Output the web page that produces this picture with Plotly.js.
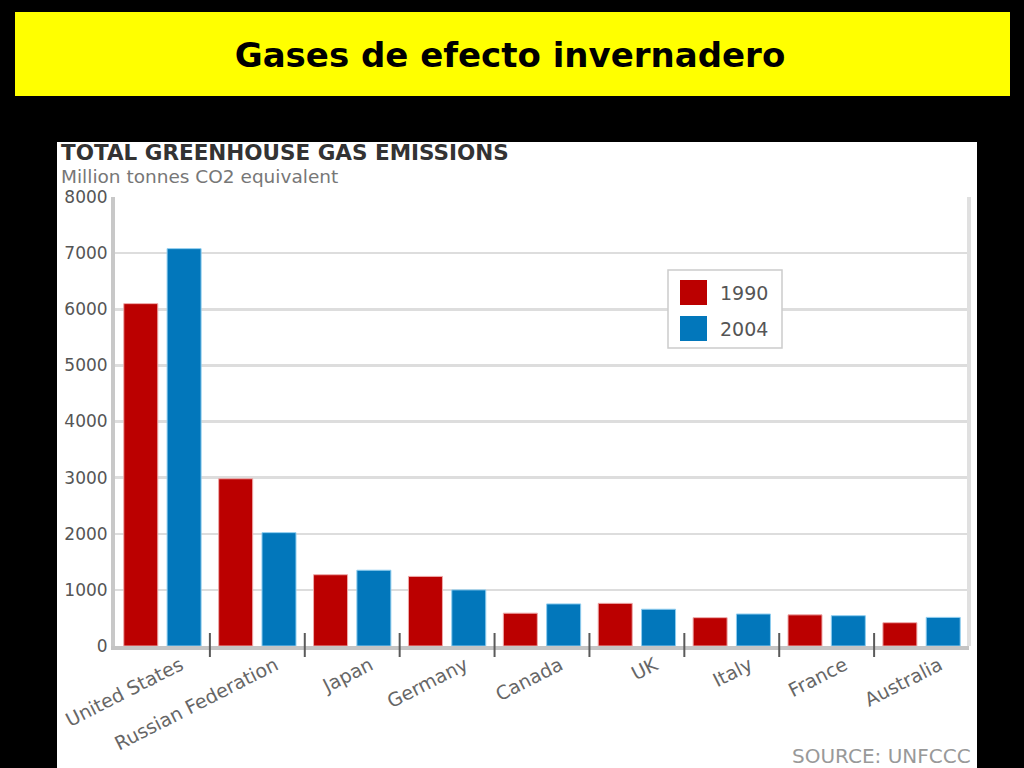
<!DOCTYPE html>
<html>
<head>
<meta charset="utf-8">
<script src="https://cdn.plot.ly/plotly-3.0.1.min.js"></script>
<style>
  html, body { margin: 0; padding: 0; background: #000; }
  #chart { width: 1024px; height: 768px; }
</style>
</head>
<body>
<div id="chart"></div>
<script>
// ---- data ----
const categories = ['United States', 'Russian Federation', 'Japan', 'Germany', 'Canada', 'UK', 'Italy', 'France', 'Australia'];
const values1990 = [6100, 2980, 1270, 1240, 585, 760, 505, 555, 415];
const values2004 = [7080, 2020, 1350, 1000, 750, 655, 570, 540, 510];
const seriesNames = ['1990', '2004'];
const yTickValues = [0, 1000, 2000, 3000, 4000, 5000, 6000, 7000, 8000];
const slideTitle = 'Gases de efecto invernadero';
const chartTitle = 'TOTAL GREENHOUSE GAS EMISSIONS';
const chartSubtitle = 'Million tonnes CO2 equivalent';
const sourceText = 'SOURCE: UNFCCC';

// ---- styling ----
const W = 1024, H = 768;
const M = { l: 115, r: 55, t: 197, b: 122 };
const PW = W - M.l - M.r, PH = H - M.t - M.b;
const px = (x) => (x - M.l) / PW;          // pixel -> paper x
const py = (y) => (H - M.b - y) / PH;      // pixel -> paper y
const colors = ['#bb0000', '#0277bb'];
const edgeColors = ['#eeaaaa', '#8fcdef'];
const FONT = 'DejaVu Sans, Arial, sans-serif';

const traces = [values1990, values2004].map((vals, i) => ({
  type: 'bar',
  name: seriesNames[i],
  x: categories,
  y: vals,
  marker: { color: colors[i], line: { color: edgeColors[i], width: 1 } },
  hoverinfo: 'x+y+name'
}));

const shapes = [];
// white chart panel
shapes.push({ type: 'rect', xref: 'paper', yref: 'paper', layer: 'below',
  x0: px(57), x1: px(977), y0: py(142), y1: py(768),
  fillcolor: '#ffffff', line: { width: 0 } });
// yellow title banner
shapes.push({ type: 'rect', xref: 'paper', yref: 'paper', layer: 'below',
  x0: px(15), x1: px(1010), y0: py(12), y1: py(96),
  fillcolor: '#ffff00', line: { width: 0 } });
// right frame line
shapes.push({ type: 'line', xref: 'paper', yref: 'paper', layer: 'above',
  x0: 1, x1: 1, y0: 0, y1: 1, line: { color: '#e0e0e0', width: 4 } });
// category separators
for (let i = 0; i < categories.length - 1; i++) {
  shapes.push({ type: 'line', xref: 'x', yref: 'paper', layer: 'above',
    x0: i + 0.5, x1: i + 0.5, y0: py(657), y1: py(633),
    line: { color: '#5a5a5a', width: 2 } });
}
// legend box and swatches
shapes.push({ type: 'rect', xref: 'paper', yref: 'paper', layer: 'above',
  x0: px(668), x1: px(782), y0: py(270), y1: py(348),
  fillcolor: '#ffffff', line: { color: '#cccccc', width: 1.5 } });
const swatchTops = [280, 316];
seriesNames.forEach((n, i) => {
  shapes.push({ type: 'rect', xref: 'paper', yref: 'paper', layer: 'above',
    x0: px(680), x1: px(707), y0: py(swatchTops[i]), y1: py(swatchTops[i] + 25),
    fillcolor: colors[i], line: { width: 0 } });
});

const annotations = [
  { text: chartTitle, xref: 'paper', yref: 'paper', x: px(60), y: py(152),
    xanchor: 'left', yanchor: 'middle', showarrow: false, borderpad: 0,
    font: { family: FONT, size: 21.5, color: '#333333', weight: 'bold' } },
  { text: chartSubtitle, xref: 'paper', yref: 'paper', x: px(60), y: py(177),
    xanchor: 'left', yanchor: 'middle', showarrow: false, borderpad: 0,
    font: { family: FONT, size: 18.5, color: '#777777' } },
  { text: sourceText, xref: 'paper', yref: 'paper', x: px(973), y: py(756),
    xanchor: 'right', yanchor: 'middle', showarrow: false,
    font: { family: FONT, size: 20, color: '#999999' } }
];
seriesNames.forEach((n, i) => {
  annotations.push({ text: n, xref: 'paper', yref: 'paper',
    x: px(718), y: py(swatchTops[i] + 13), xanchor: 'left', yanchor: 'middle',
    showarrow: false, font: { family: FONT, size: 19, color: '#555555' } });
});

const layout = {
  width: W, height: H,
  margin: M,
  paper_bgcolor: '#000000',
  plot_bgcolor: '#ffffff',
  showlegend: false,
  barmode: 'group',
  bargap: 0.087,
  bargroupgap: 0.215,
  title: {
    text: slideTitle,
    xref: 'paper', yref: 'container',
    x: px(510), y: 1 - 55 / H, xanchor: 'center', yanchor: 'middle',
    font: { family: FONT, size: 34, color: '#000000', weight: 'bold' }
  },
  xaxis: {
    type: 'category',
    showgrid: false, zeroline: false,
    showline: true, linecolor: '#c4c4c4', linewidth: 4,
    ticks: '',
    tickangle: -27,
    ticklabelshift: 18,
    ticklabelstandoff: -3,
    tickfont: { family: FONT, size: 19, color: '#666666' },
    fixedrange: true
  },
  yaxis: {
    range: [0, 8000],
    tickvals: yTickValues,
    ticktext: yTickValues.map(String),
    showgrid: true, gridcolor: '#dddddd', gridwidth: 2.5,
    zeroline: false,
    showline: true, linecolor: '#c8c8c8', linewidth: 4,
    ticks: '',
    tickfont: { family: FONT, size: 17, color: '#555555' },
    fixedrange: true
  },
  shapes: shapes,
  annotations: annotations
};

Plotly.newPlot('chart', traces, layout, { displayModeBar: false, staticPlot: true });
</script>
</body>
</html>
